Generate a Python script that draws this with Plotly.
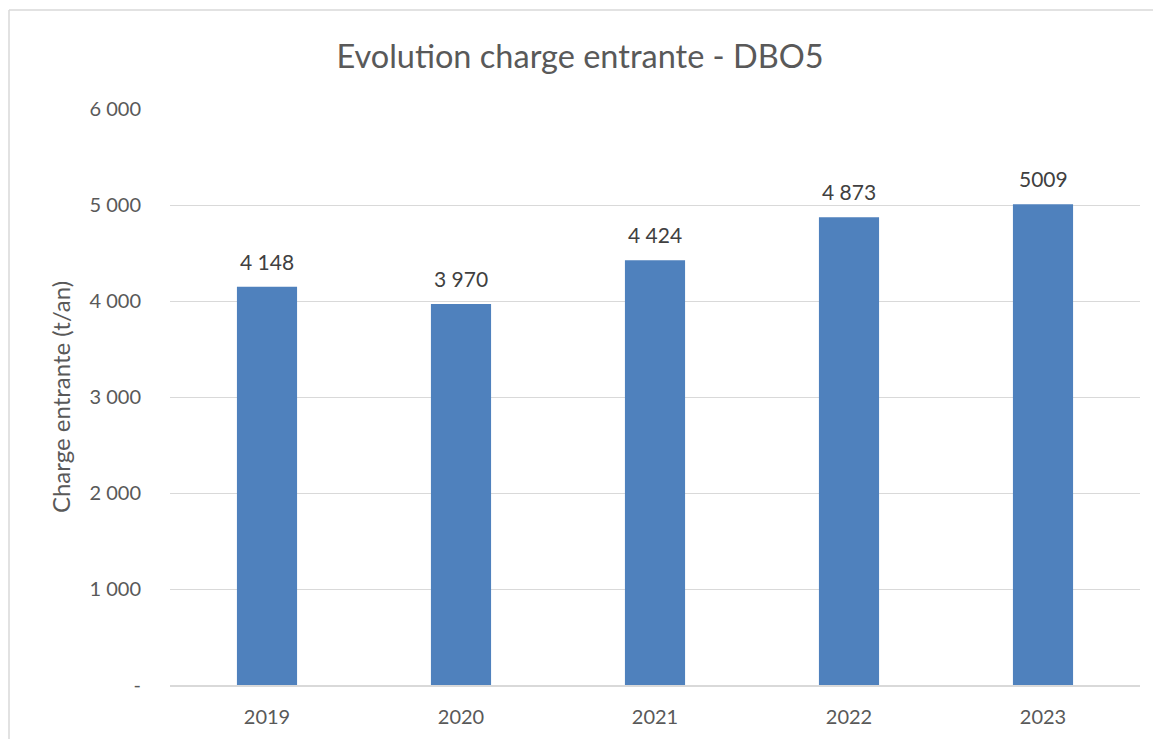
import plotly.graph_objects as go

years = ["2019", "2020", "2021", "2022", "2023"]
charge = [4148, 3970, 4424, 4873, 5009]
labels = ["4 148", "3 970", "4 424", "4 873", "5009"]
ytick_vals = [0, 1000, 2000, 3000, 4000, 5000, 6000]
ytick_text = ["-", "1 000", "2 000", "3 000", "4 000", "5 000", "6 000"]

FONT = "Lato"
TXT = "#595959"

fig = go.Figure(go.Bar(
    x=years, y=charge,
    marker=dict(color="#4F81BD", line=dict(width=0)),
))

# page body has an 8px margin: work in figure coordinates = screen - 8
W, H = 1153, 731
L, R, T, B = 162, 21, 101, 54
pw, ph = W - L - R, H - T - B

def px_x(px):
    return (px - 8 - L) / pw

def px_y(py):
    return (H - B - (py - 8)) / ph

# on a category axis, annotation x is the category index
annotations = [
    dict(x=i, y=v, text=t, xref="x", yref="y", showarrow=False,
         yanchor="bottom", yshift=11,
         font=dict(family=FONT, size=21, color="#404040"))
    for i, (v, t) in enumerate(zip(charge, labels))
]

fig.update_layout(
    width=W, height=H,
    margin=dict(l=L, r=R, t=T, b=B, autoexpand=False),
    paper_bgcolor="white", plot_bgcolor="white",
    showlegend=False, bargap=0.69,
    title=dict(text="Evolution charge entrante - DBO5", x=0.5 + (580 - 8 - W / 2) / W,
               xref="container", xanchor="center", y=1 - 49 / H, yref="container",
               yanchor="middle", font=dict(family=FONT, size=32.5, color=TXT)),
    font=dict(family=FONT, color=TXT),
    xaxis=dict(type="category", showgrid=False, showline=True, linecolor="#d9d9d9",
               linewidth=1.5, tickfont=dict(family=FONT, size=20, color=TXT), ticks="",
               ticklabelstandoff=13),
    yaxis=dict(range=[0, 6000], tickvals=ytick_vals, ticktext=ytick_text,
               showgrid=True, gridcolor="#d9d9d9", gridwidth=1.3, zeroline=False,
               tickfont=dict(family=FONT, size=20, color=TXT), ticks="",
               ticklabelstandoff=28,
               title=dict(text="Charge entrante (t/an)", standoff=12,
                          font=dict(family=FONT, size=24, color=TXT))),
    annotations=annotations,
    shapes=[
        dict(type="line", xref="paper", yref="paper", x0=px_x(9), x1=px_x(9),
             y0=px_y(10), y1=px_y(745), line=dict(color="#d9d9d9", width=1.5)),
        dict(type="line", xref="paper", yref="paper", x0=px_x(9), x1=px_x(1170),
             y0=px_y(10), y1=px_y(10), line=dict(color="#d9d9d9", width=1.5)),
    ],
)

fig.write_html("out.html")
